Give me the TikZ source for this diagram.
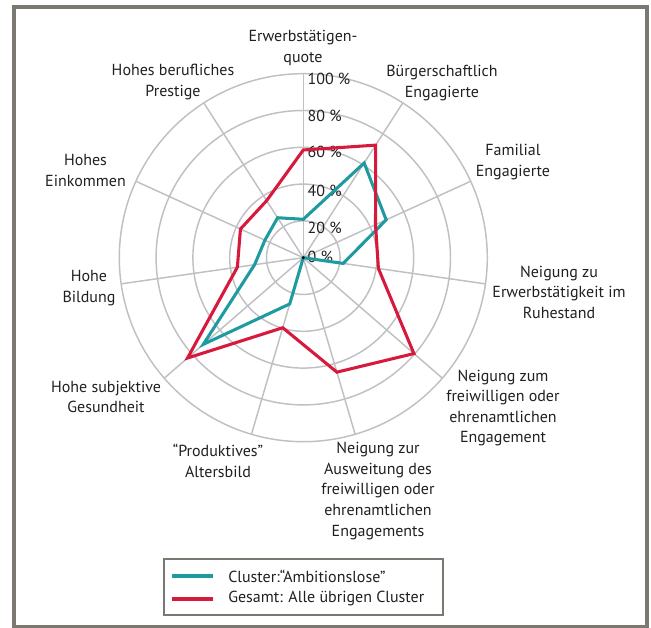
\documentclass[tikz,border=0pt]{standalone}
\usepackage{fontspec}
\setmainfont{PT Sans}
\usepackage{tikz}
\usetikzlibrary{positioning}
\usepackage{xcolor}
\definecolor{ambition}{RGB}{30,155,160}
\definecolor{gesamt}{RGB}{215,25,60}
\definecolor{gridgray}{RGB}{192,192,196}
\definecolor{framegray}{RGB}{122,120,112}
\definecolor{textgray}{RGB}{35,31,32}
\tikzset{%
	grid line/.style={
		draw=gridgray,
		line width=1.1pt
	},
	axis label/.style={
		align=center,
		inner sep=0pt,
		text=textgray,
		font=\fontsize{12}{15.4}\selectfont
	},
	percent label/.style={
		anchor=west,
		inner sep=0pt,
		text=textgray,
		font=\fontsize{12}{14}\selectfont
	},
	cluster line/.style={
		draw=ambition,
		line width=2.3pt
	},
	total line/.style={
		draw=gesamt,
		line width=2.3pt
	},
}

\begin{document}
\begin{tikzpicture}[x=0.75pt, y=0.75pt]
			\useasboundingbox (-303.3,-370.3) rectangle (347.7,257.7);
			
			% Outer frame
			\draw[framegray, line width=2.6pt] (-289.3,250.7) rectangle (343.7,-368.8);
			
			% Rings
			\draw[grid line] (0,0) circle (36.8);
			\draw[grid line] (0,0) circle (73.6);
			\draw[grid line] (0,0) circle (110.4);
			\draw[grid line] (0,0) circle (147.2);
			\draw[grid line] (0,0) circle (184);
			
			% Spokes
			\draw[grid line] (0,0) -- (90:184);
			\draw[grid line] (0,0) -- (57.273:184);
			\draw[grid line] (0,0) -- (24.545:184);
			\draw[grid line] (0,0) -- (-8.182:184);
			\draw[grid line] (0,0) -- (-40.909:184);
			\draw[grid line] (0,0) -- (-73.636:184);
			\draw[grid line] (0,0) -- (-106.364:184);
			\draw[grid line] (0,0) -- (-139.091:184);
			\draw[grid line] (0,0) -- (-171.818:184);
			\draw[grid line] (0,0) -- (155.455:184);
			\draw[grid line] (0,0) -- (122.727:184);
			
			% Percent labels
			\node[percent label] (p100) at (4,178.7) {100 \%};
			\node[percent label] (p80) at (4,142) {80 \%};
			\node[percent label] (p60) at (4,105.4) {60 \%};
			\node[percent label] (p40) at (4,67) {40 \%};
			\node[percent label] (p20) at (4,29.4) {20 \%};
			\node[percent label] (p0) at (4,0.4) {0 \%};
			
			% Cluster: Ambitionslose
			\draw[cluster line] (90:38.4) -- (57.273:112.6) -- (24.545:91.1) -- (-8.182:40.3)
				-- (0,0) -- (-106.364:48.2) -- (-139.091:132.4) -- (-171.818:49.2)
				-- (155.455:42.2) -- (122.727:47.5) -- cycle;
			
			% Gesamt: alle uebrigen Cluster
			\draw[total line] (90:107.7) -- (57.273:133.8) -- (24.545:79.4) -- (-8.182:75.9)
				-- (-40.909:146.4) -- (-73.636:119.3) -- (-106.364:73) -- (-139.091:153.2)
				-- (-171.818:66.6) -- (155.455:69.1) -- (122.727:67.8) -- cycle;
			
			\fill[black] (0,0) circle (1.6);
			
			% Axis labels
			\node[axis label] (erwerb) at (-0.3,209.7) {Erwerbstätigen-\\quote};
			\node[axis label] (buerger) at (138.7,174.7) {Bürgerschaftlich\\Engagierte};
			\node[axis label] (familial) at (209.7,95.7) {Familial\\Engagierte};
			\node[axis label] (ruhestand) at (255.7,-34.3) {Neigung zu\\Erwerbstätigkeit im\\Ruhestand};
			\node[axis label] (freiwillig) at (199.7,-150.3) {Neigung zum\\freiwilligen oder\\ehrenamtlichen\\Engagement};
			\node[axis label] (ausweitung) at (74.7,-233.3) {Neigung zur\\Ausweitung des\\freiwilligen oder\\ehrenamtlichen\\Engagements};
			\node[axis label] (altersbild) at (-85.3,-203.3) {“Produktives”\\Altersbild};
			\node[axis label] (gesundheit) at (-197.3,-139.3) {Hohe subjektive\\Gesundheit};
			\node[axis label] (bildung) at (-214.3,-30.3) {Hohe\\Bildung};
			\node[axis label] (einkommen) at (-217.8,87.2) {Hohes\\Einkommen};
			\node[axis label] (prestige) at (-130.3,175.7) {Hohes berufliches\\Prestige};
			
			% Legend
			\draw[framegray, line width=0.8pt] (-139.3,-301.3) rectangle (139.7,-357.3);
			\coordinate (ambstart) at (-131.3,-318.3);
			\coordinate (gesstart) at (-131.3,-341.3);
			\node[percent label] (ambtext) at (-75.3,-318.3) {Cluster:“Ambitionslose”};
			\node[percent label] (gestext) at (-75.3,-341.3) {Gesamt: Alle übrigen Cluster};
			\draw[cluster line] (ambstart) -- ++(41,0);
			\draw[total line] (gesstart) -- ++(41,0);
			
		\end{tikzpicture}
\end{document}
